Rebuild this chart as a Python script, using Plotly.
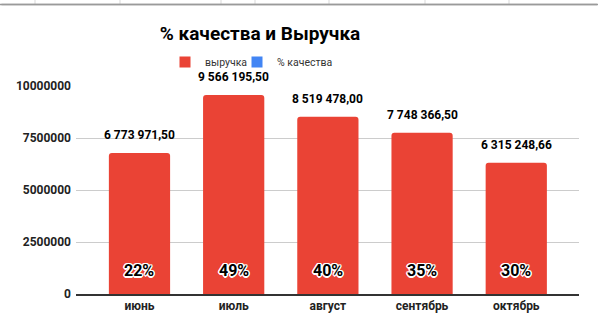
import plotly.graph_objects as go

# Monthly revenue and quality share
months = ["июнь", "июль", "август", "сентябрь", "октябрь"]
revenue = [6773971.50, 9566195.50, 8519478.00, 7748366.50, 6315248.66]
revenue_labels = ["6 773 971,50", "9 566 195,50", "8 519 478,00", "7 748 366,50", "6 315 248,66"]
quality = [0.22, 0.49, 0.40, 0.35, 0.30]
quality_labels = ["22%", "49%", "40%", "35%", "30%"]
y_ticks = [0, 2500000, 5000000, 7500000, 10000000]

RED = "#EA4335"
BLUE = "#4285F4"
FONT = "Roboto"

W, H = 598, 327
ML, MR, MT, MB = 76, 19, 86, 33

fig = go.Figure()
fig.add_trace(go.Bar(
    x=months, y=revenue, name="выручка",
    marker=dict(color=RED, line=dict(width=0)),
    width=0.65, hoverinfo="x+y", showlegend=False,
))
fig.add_trace(go.Bar(
    x=months, y=quality, name="% качества",
    marker=dict(color=BLUE, line=dict(width=0)),
    width=0.65, hoverinfo="x+y", showlegend=False,
))
# square legend keys, one legend box per series
fig.add_trace(go.Scatter(x=[None], y=[None], mode="markers", name="выручка",
                         marker=dict(symbol="square", size=11, color=RED),
                         legend="legend"))
fig.add_trace(go.Scatter(x=[None], y=[None], mode="markers", name="% качества",
                         marker=dict(symbol="square", size=11, color=BLUE),
                         legend="legend2"))

# pixel -> paper helpers for decorations outside the plot area
pw, ph = W - ML - MR, H - MT - MB
def px_x(p):
    return (p - ML) / pw
def px_y(p):
    return (H - MB - p) / ph

annotations = []
for m, v, t in zip(months, revenue, revenue_labels):
    annotations.append(dict(
        x=m, y=v, text=t, showarrow=False, yanchor="middle", yshift=18,
        font=dict(family=FONT, size=12, color="#000", weight="bold"),
    ))
halo = ("-1px -1px 0 #fff, 1px -1px 0 #fff, -1px 1px 0 #fff, 1px 1px 0 #fff, "
        "0 -1.5px 0 #fff, 0 1.5px 0 #fff, -1.5px 0 0 #fff, 1.5px 0 0 #fff")
for m, q, t in zip(months, quality, quality_labels):
    annotations.append(dict(
        x=m, y=q, text=t, showarrow=False, yanchor="middle", yshift=24,
        font=dict(family=FONT, size=16, color="#000", weight="bold", shadow=halo),
    ))
# spreadsheet row border along the top edge
annotations.append(dict(
    x=px_x(W), y=px_y(4.5), xref="paper", yref="paper", text="",
    showarrow=True, arrowhead=0, arrowwidth=1.5, arrowcolor="#9a9a9a",
    ax=-W, ay=0, standoff=0, startstandoff=0,
))

# spreadsheet column borders peeking above the chart
shapes = []
for cx in [35, 120, 221, 255, 329, 425, 509]:
    shapes.append(dict(type="line", xref="paper", yref="paper",
                       x0=px_x(cx), x1=px_x(cx), y0=px_y(0), y1=px_y(4),
                       line=dict(color="#d9d9d9", width=1)))
edges = [0, 35, 120, 221, 255, 329, 425, 509, W]
for a, b in zip(edges[:-1], edges[1:]):
    shapes.append(dict(type="line", xref="paper", yref="paper",
                       x0=px_x(a), x1=px_x(b), y0=px_y(4.5), y1=px_y(4.5),
                       line=dict(color="#9a9a9a", width=1.5)))

legend_common = dict(orientation="h", xref="container", yref="container",
                     xanchor="left", y=1 - 62 / H, yanchor="middle",
                     font=dict(family=FONT, size=10.5, color="#333"),
                     itemwidth=30, bgcolor="rgba(0,0,0,0)")

fig.update_layout(
    width=W, height=H,
    margin=dict(l=ML, r=MR, t=MT, b=MB, autoexpand=False),
    paper_bgcolor="#fff", plot_bgcolor="#fff",
    barmode="overlay", barcornerradius=3,
    title=dict(text="% качества и Выручка", x=260 / W, xanchor="center",
               y=1 - 33 / H, yanchor="middle", yref="container",
               font=dict(family=FONT, size=19, color="#000", weight="bold")),
    legend=dict(legend_common, x=165 / W),
    legend2=dict(legend_common, x=237 / W),
    xaxis=dict(range=[-0.674, 4.666], showgrid=False, showline=True,
               linecolor="#333", linewidth=1.5, ticks="",
               tickfont=dict(family=FONT, size=12, color="#222", weight="bold"),
               fixedrange=True),
    yaxis=dict(range=[0, 10000000], tickvals=y_ticks,
               ticktext=[str(v) for v in y_ticks],
               showgrid=True, gridcolor="#cccccc", gridwidth=1,
               zeroline=False, showline=False, ticks="",
               ticklabelstandoff=4,
               tickfont=dict(family=FONT, size=12, color="#222", weight="bold"),
               fixedrange=True),
    annotations=annotations,
    shapes=shapes,
    showlegend=True,
)

fig.write_html("out.html", config={"displayModeBar": False})
